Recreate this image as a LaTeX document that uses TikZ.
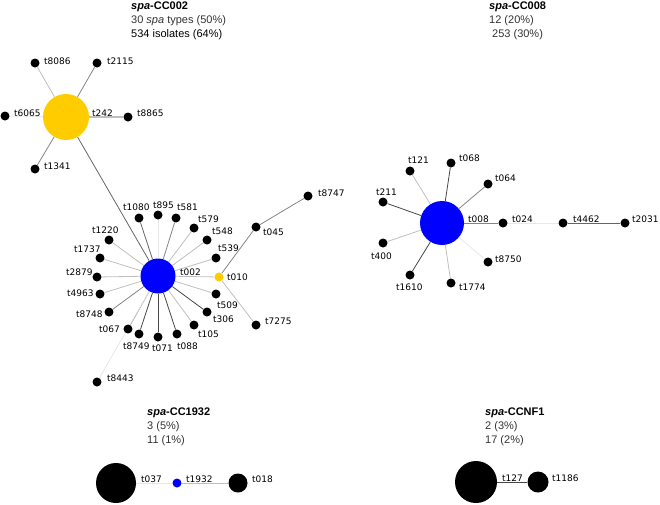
\documentclass[tikz,border=0pt]{standalone}
\usepackage{fontspec}
\setmainfont{Liberation Sans}
\newfontfamily\labelfont{DejaVu Sans}
\usetikzlibrary{shapes,positioning,backgrounds}
\definecolor{spayellow}{RGB}{255,204,0}
\definecolor{spablue}{RGB}{0,0,255}
\tikzstyle{tnode} = [circle, fill=black, inner sep=0pt, minimum size=9pt]
\tikzstyle{bignode} = [circle, inner sep=0pt]
\tikzstyle{tlabel} = [anchor=west, inner sep=0pt, font=\labelfont\fontsize{9}{11}\selectfont]
\tikzstyle{head} = [anchor=base west, inner sep=0pt, font=\fontsize{11}{14}\selectfont, text=black!80]
\tikzstyle{edgedark} = [draw=black!72, line width=0.8pt]
\tikzstyle{edgemid} = [draw=black!48, line width=0.8pt]
\tikzstyle{edgelight} = [draw=black!25, line width=0.8pt]
\tikzstyle{edgefaint} = [draw=black!9, line width=0.8pt]

\begin{document}
\begin{tikzpicture}[x=1pt, y=-1pt]
	\useasboundingbox (0,0) rectangle (660,504);
	\node [head, text=black] (cc002a) at (131,9) {\textbf{\textit{spa}-CC002}};
	\node [head] (cc002b) at (131,23) {30 \textit{spa} types (50\%)};
	\node [head, text=black] (cc002c) at (131,37) {534 isolates (64\%)};
	\node [head, text=black] (cc008a) at (489,9) {\textbf{\textit{spa}-CC008}};
	\node [head] (cc008b) at (489,23) {12 (20\%)};
	\node [head] (cc008c) at (492,37) {253 (30\%)};
	\node [head, text=black] (cc1932a) at (147,415) {\textbf{\textit{spa}-CC1932}};
	\node [head] (cc1932b) at (147,429) {3 (5\%)};
	\node [head] (cc1932c) at (147,443) {11 (1\%)};
	\node [head, text=black] (ccnf1a) at (485,415) {\textbf{\textit{spa}-CCNF1}};
	\node [head] (ccnf1b) at (485,429) {2 (3\%)};
	\node [head] (ccnf1c) at (485,443) {17 (2\%)};
	\node [bignode, fill=spayellow, minimum size=46pt] (t242) at (66,117) {};
	\node [tnode] (t8086) at (35,63) {};
	\node [tnode] (t2115) at (97,63) {};
	\node [tnode] (t6065) at (5,116) {};
	\node [tnode] (t8865) at (128,117) {};
	\node [tnode] (t1341) at (35,169) {};
	\node [bignode, fill=spablue, minimum size=35pt] (t002) at (158,276) {};
	\node [tnode] (t1080) at (139,218) {};
	\node [tnode] (t895) at (158,215) {};
	\node [tnode] (t581) at (176,218) {};
	\node [tnode] (t579) at (194,228) {};
	\node [tnode] (t548) at (207,240) {};
	\node [tnode] (t539) at (216,258) {};
	\node [tnode, fill=spayellow] (t010) at (219,277) {};
	\node [tnode] (t045) at (256,227) {};
	\node [tnode] (t8747) at (308,196) {};
	\node [tnode] (t7275) at (256,325) {};
	\node [tnode] (t509) at (216,294) {};
	\node [tnode] (t306) at (207,312) {};
	\node [tnode] (t105) at (194,325) {};
	\node [tnode] (t088) at (177,334) {};
	\node [tnode] (t071) at (158,337) {};
	\node [tnode] (t8749) at (139,334) {};
	\node [tnode] (t067) at (128,329) {};
	\node [tnode] (t8748) at (109,312) {};
	\node [tnode] (t4963) at (100,294) {};
	\node [tnode] (t2879) at (97,277) {};
	\node [tnode] (t1737) at (100,258) {};
	\node [tnode] (t1220) at (109,240) {};
	\node [tnode] (t8443) at (97,382) {};
	\node [bignode, fill=spablue, minimum size=44pt] (t008) at (442,223) {};
	\node [tnode] (t121) at (410,171) {};
	\node [tnode] (t068) at (451,163) {};
	\node [tnode] (t064) at (488,184) {};
	\node [tnode] (t211) at (383,202) {};
	\node [tnode] (t400) at (383,243) {};
	\node [tnode] (t1610) at (410,275) {};
	\node [tnode] (t1774) at (451,283) {};
	\node [tnode] (t8750) at (488,262) {};
	\node [tnode] (t024) at (503,223) {};
	\node [tnode] (t4462) at (563,223) {};
	\node [tnode] (t2031) at (625,223) {};
	\node [bignode, fill=black, minimum size=40pt] (t037) at (116,483) {};
	\node [tnode, fill=spablue] (t1932) at (177,483) {};
	\node [bignode, fill=black, minimum size=19pt] (t018) at (238,483) {};
	\node [bignode, fill=black, minimum size=42pt] (t127) at (476,482) {};
	\node [bignode, fill=black, minimum size=21pt] (t1186) at (538,482) {};
	\node [tlabel] (l242) at (92,113) {t242};
	\node [tlabel] (l8086) at (44,61) {t8086};
	\node [tlabel] (l2115) at (107,61) {t2115};
	\node [tlabel] (l6065) at (14,113) {t6065};
	\node [tlabel] (l8865) at (137,113) {t8865};
	\node [tlabel] (l1341) at (44,166) {t1341};
	\node [tlabel] (l002) at (180,272) {t002};
	\node [tlabel] (l1080) at (123,207) {t1080};
	\node [tlabel] (l895) at (153,205) {t895};
	\node [tlabel] (l581) at (177,207) {t581};
	\node [tlabel] (l579) at (198,219) {t579};
	\node [tlabel] (l548) at (212,231) {t548};
	\node [tlabel] (l539) at (218,248) {t539};
	\node [tlabel] (l010) at (227,277) {t010};
	\node [tlabel] (l045) at (263,232) {t045};
	\node [tlabel] (l8747) at (318,193) {t8747};
	\node [tlabel] (l7275) at (265,321) {t7275};
	\node [tlabel] (l509) at (217,305) {t509};
	\node [tlabel] (l306) at (213,319) {t306};
	\node [tlabel] (l105) at (198,334) {t105};
	\node [tlabel] (l088) at (177,346) {t088};
	\node [tlabel] (l071) at (152,348) {t071};
	\node [tlabel] (l8749) at (123,346) {t8749};
	\node [tlabel] (l067) at (99,329) {t067};
	\node [tlabel] (l8748) at (76,314) {t8748};
	\node [tlabel] (l4963) at (67,293) {t4963};
	\node [tlabel] (l2879) at (66,272) {t2879};
	\node [tlabel] (l1737) at (74,249) {t1737};
	\node [tlabel] (l1220) at (92,230) {t1220};
	\node [tlabel] (l8443) at (107,378) {t8443};
	\node [tlabel] (l008) at (468,219) {t008};
	\node [tlabel] (l121) at (408,160) {t121};
	\node [tlabel] (l068) at (459,158) {t068};
	\node [tlabel] (l064) at (495,178) {t064};
	\node [tlabel] (l211) at (376,192) {t211};
	\node [tlabel] (l400) at (371,256) {t400};
	\node [tlabel] (l1610) at (396,287) {t1610};
	\node [tlabel] (l1774) at (459,287) {t1774};
	\node [tlabel] (l8750) at (495,259) {t8750};
	\node [tlabel] (l024) at (512,219) {t024};
	\node [tlabel] (l4462) at (573,219) {t4462};
	\node [tlabel] (l2031) at (632,219) {t2031};
	\node [tlabel] (l037) at (141,479) {t037};
	\node [tlabel] (l1932) at (186,479) {t1932};
	\node [tlabel] (l018) at (252,479) {t018};
	\node [tlabel] (l127) at (502,478) {t127};
	\node [tlabel] (l1186) at (552,478) {t1186};
	\begin{pgfonlayer}{background}
	\path [edgelight] (t242) -- (t8086);
	\path [edgemid] (t242) -- (t2115);
	\path [edgefaint] (t242) -- (t6065);
	\path [edgelight, line width=1.6pt] (t242) -- (t8865);
	\path [edgemid] (t242) -- (t1341);
	\path [edgemid, draw=black!60] (t242) -- (t002);
	\path [edgemid, draw=black!60] (t002) -- (t1080);
	\path [edgefaint] (t002) -- (t895);
	\path [edgemid] (t002) -- (t581);
	\path [edgelight] (t002) -- (t579);
	\path [edgelight] (t002) -- (t548);
	\path [edgelight] (t002) -- (t539);
	\path [edgelight] (t002) -- (t010);
	\path [edgemid] (t010) -- (t045);
	\path [edgemid] (t045) -- (t8747);
	\path [edgelight] (t010) -- (t7275);
	\path [edgelight] (t002) -- (t509);
	\path [edgedark] (t002) -- (t306);
	\path [edgelight] (t002) -- (t105);
	\path [edgedark] (t002) -- (t088);
	\path [edgedark] (t002) -- (t071);
	\path [edgedark] (t002) -- (t8749);
	\path [edgemid] (t002) -- (t067);
	\path [edgemid] (t002) -- (t8748);
	\path [edgelight] (t002) -- (t4963);
	\path [edgelight] (t002) -- (t2879);
	\path [edgelight] (t002) -- (t1737);
	\path [edgelight] (t002) -- (t1220);
	\path [edgefaint] (t002) -- (t8443);
	\path [edgelight] (t008) -- (t121);
	\path [edgedark] (t008) -- (t068);
	\path [edgemid] (t008) -- (t064);
	\path [edgedark] (t008) -- (t211);
	\path [edgelight] (t008) -- (t400);
	\path [edgedark] (t008) -- (t1610);
	\path [edgelight] (t008) -- (t1774);
	\path [edgefaint] (t008) -- (t8750);
	\path [edgemid] (t008) -- (t024);
	\path [edgefaint] (t024) -- (t4462);
	\path [edgemid, draw=black!60] (t4462) -- (t2031);
	\path [edgefaint] (t037) -- (t1932);
	\path [edgelight] (t1932) -- (t018);
	\path [edgedark] (t127) -- (t1186);
	\end{pgfonlayer}
\end{tikzpicture}
\end{document}
